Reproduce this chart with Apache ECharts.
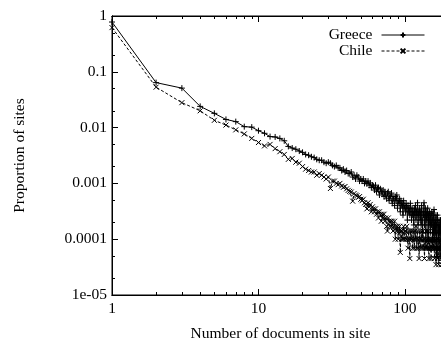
<!DOCTYPE html>
<html>
<head>
<meta charset="utf-8">
<script src="https://cdn.jsdelivr.net/npm/echarts@6/dist/echarts.min.js"></script>
<style>
  html, body { margin: 0; padding: 0; background: #fff; }
  #chart { width: 441px; height: 342px; }
</style>
</head>
<body>
<div id="chart"></div>
<script>
// proportion of sites with n documents, n = 1, 2, 3 ...
const greece = [
  0.78, 0.064, 0.051, 0.024, 0.018, 0.014, 0.0128, 0.0104, 0.0102, 0.0088,
  0.0079, 0.0069, 0.0068, 0.0064, 0.0058, 0.0046, 0.0043, 0.0041, 0.0038, 0.0036,
  0.0033, 0.0032, 0.0030, 0.0029, 0.0027, 0.0026, 0.0026, 0.0024, 0.0023, 0.0024,
  0.0023, 0.0021, 0.0020, 0.0021, 0.0019, 0.0019, 0.0017, 0.0018, 0.0016, 0.0017,
  0.0015, 0.0015, 0.0016, 0.0013, 0.0014, 0.0012, 0.0014, 0.0013, 0.0011, 0.0012,
  0.0011, 0.0012, 0.0010, 0.0011, 0.00098, 0.0011, 0.00093, 0.00102, 0.00084, 0.00093,
  0.00089, 0.00076, 0.00093, 0.00071, 0.00080, 0.00084, 0.00062, 0.00080, 0.00071, 0.00067,
  0.00076, 0.00058, 0.00071, 0.00062, 0.00053, 0.00067, 0.00071, 0.00049, 0.00062, 0.00058,
  0.00067, 0.00044, 0.00058, 0.00053, 0.00040, 0.00058, 0.00049, 0.00062, 0.00036, 0.00049,
  0.00044, 0.00053, 0.00031, 0.00049, 0.00040, 0.00044, 0.00027, 0.00049, 0.00036, 0.00040,
  0.00031, 0.00044, 0.00036, 0.00022, 0.00040, 0.00031, 0.00036, 0.00027, 0.00044, 0.00031,
  0.00022, 0.00036, 0.00027, 0.00031, 0.00018, 0.00036, 0.00027, 0.00040, 0.00022, 0.00031,
  0.00027, 0.00045, 0.00018, 0.00031, 0.00027, 0.00036, 0.00022, 0.00031, 0.00018, 0.00040,
  0.00022, 0.00013, 0.00031, 0.00027, 0.00045, 0.00018, 0.00027, 0.00036, 0.00013, 0.00031,
  0.00022, 0.00027, 0.00036, 0.00009, 0.00027, 0.00018, 0.00031, 0.00022, 0.00013, 0.00027,
  0.00029, 0.00018, 0.00031, 0.00009, 0.00022, 0.00027, 0.00013, 0.00034, 0.00018, 0.00009,
  0.00022, 0.00013, 0.00027, 0.00018, 0.000049, 0.00022, 0.00027, 0.00013, 0.00018, 0.00009,
  0.00022, 0.00013, 0.00018, 0.000049, 0.00022, 0.00013, 0.00022, 0.00009, 0.00013, 0.00018
]
const chile = [
  0.62, 0.053, 0.028, 0.020, 0.0135, 0.0111, 0.0091, 0.0077, 0.0064, 0.0054,
  0.0047, 0.0050, 0.0042, 0.0037, 0.0033, 0.0027, 0.0028, 0.0024, 0.0023, 0.0020,
  0.0018, 0.0017, 0.0016, 0.0016, 0.0014, 0.0015, 0.0014, 0.0013, 0.0012, 0.0013,
  0.00081, 0.0011, 0.0011, 0.0010, 0.00095, 0.0010, 0.00090, 0.00085, 0.00088, 0.00080,
  0.00075, 0.00072, 0.00070, 0.00048, 0.00066, 0.00062, 0.00060, 0.00056, 0.00058, 0.00052,
  0.00049, 0.00052, 0.00045, 0.00042, 0.00035, 0.00045, 0.00038, 0.00042, 0.00031, 0.00038,
  0.00035, 0.00031, 0.00035, 0.00028, 0.00031, 0.00024, 0.00031, 0.00028, 0.00021, 0.00028,
  0.00024, 0.00028, 0.00021, 0.00024, 0.00017, 0.00014, 0.00024, 0.00021, 0.00017, 0.00021,
  0.00017, 0.00021, 0.00014, 0.00017, 0.00021, 0.00010, 0.00017, 0.00014, 0.00017, 0.00010,
  0.00014, 0.00017, 0.000058, 0.00014, 0.00010, 0.00014, 0.00010, 0.00017, 0.00010, 0.00014,
  0.00014, 0.00010, 0.00017, 0.00010, 0.000069, 0.00014, 0.00010, 0.000045, 0.00014, 0.00010,
  0.00014, 0.00010, 0.000069, 0.00014, 0.00010, 0.000069, 0.00014, 0.00010, 0.00017, 0.000069,
  0.00010, 0.00014, 0.000069, 0.00010, 0.000045, 0.00014, 0.00010, 0.000069, 0.00010, 0.00014,
  0.000069, 0.00010, 0.00014, 0.000069, 0.00010, 0.000045, 0.00010, 0.000069, 0.00014, 0.000069,
  0.00010, 0.000069, 0.00010, 0.00014, 0.000069, 0.000045, 0.00010, 0.000069, 0.00010, 0.000069,
  0.000045, 0.00010, 0.000069, 0.00010, 0.000069, 0.00014, 0.000069, 0.00010, 0.000045, 0.000069,
  0.00010, 0.000069, 0.000035, 0.000069, 0.00010, 0.000069, 0.000045, 0.00010, 0.000069, 0.000035,
  0.000069, 0.00010, 0.000069, 0.000045, 0.000069, 0.00010, 0.000069, 0.000035, 0.000069, 0.000045
]
const xTicks = [1, 10, 100]
const xMinorTicks = [2, 3, 4, 5, 6, 7, 8, 9, 20, 30, 40, 50, 60, 70, 80, 90, 200]
const yTicks = [1e-5, 1e-4, 1e-3, 1e-2, 1e-1, 1]
const yTickLabels = ['1e-05', '0.0001', '0.001', '0.01', '0.1', '1']
const yMinorTicks = [2e-5, 5e-5, 2e-4, 5e-4, 2e-3, 5e-3, 2e-2, 5e-2, 0.2, 0.5]

const FONT = 'Liberation Serif'
const FONT_SIZE = 15.5
const plusPath = 'path://M0,5L10,5M5,0L5,10'
const crossPath = 'path://M0,0L10,10M0,10L10,0'

function toPoints (arr) {
  return arr.map((v, i) => [i + 1, v])
}

// x axis builder: major with labels, or minor ticks only
function xAxisOf (pos, major) {
  return {
    type: 'log',
    position: pos,
    min: 1,
    max: 200,
    logBase: 10,
    axisLine: { show: true, onZero: false, lineStyle: { color: '#000', width: 1 } },
    axisTick: {
      show: true,
      inside: true,
      length: major ? 6 : 3,
      customValues: major ? xTicks : xMinorTicks,
      lineStyle: { color: '#000', width: 1 }
    },
    axisLabel: {
      show: major && pos === 'bottom',
      customValues: xTicks,
      margin: 6,
      fontFamily: FONT,
      fontSize: FONT_SIZE,
      color: '#000'
    },
    splitLine: { show: false },
    name: major && pos === 'bottom' ? 'Number of documents in site' : '',
    nameLocation: 'middle',
    nameGap: 31,
    nameTextStyle: { fontFamily: FONT, fontSize: FONT_SIZE, color: '#000' }
  }
}

function yAxisOf (major) {
  return {
    type: 'log',
    position: 'left',
    min: 1e-5,
    max: 1,
    logBase: 10,
    axisLine: { show: true, onZero: false, lineStyle: { color: '#000', width: 1 } },
    axisTick: {
      show: true,
      inside: true,
      length: major ? 6 : 3,
      customValues: major ? yTicks : yMinorTicks,
      lineStyle: { color: '#000', width: 1 }
    },
    axisLabel: {
      show: major,
      customValues: yTicks,
      margin: 5,
      fontFamily: FONT,
      fontSize: FONT_SIZE,
      color: '#000',
      formatter: (val) => {
        let idx = yTicks.findIndex(t => Math.abs(Math.log10(t) - Math.log10(val)) < 1e-6)
        return idx >= 0 ? yTickLabels[idx] : ''
      }
    },
    splitLine: { show: false },
    name: major ? 'Proportion of sites' : '',
    nameLocation: 'middle',
    nameGap: 84,
    nameTextStyle: { fontFamily: FONT, fontSize: FONT_SIZE, color: '#000' }
  }
}

let chart = echarts.init(document.getElementById('chart'))
chart.setOption({
  animation: false,
  backgroundColor: '#fff',
  grid: {
    show: true,
    borderColor: '#000',
    borderWidth: 1,
    backgroundColor: 'transparent',
    left: 112,
    top: 16,
    right: -8,
    bottom: 47,
    containLabel: false,
    outerBoundsMode: 'none'
  },
  legend: {
    orient: 'vertical',
    right: 11,
    top: 22,
    align: 'right',
    itemWidth: 43,
    itemHeight: 6,
    itemGap: 0,
    lineStyle: { width: 1 },
    textStyle: { fontFamily: FONT, fontSize: FONT_SIZE, lineHeight: 15, color: '#000', padding: [0, 4, 0, 0] },
    data: ['Greece', 'Chile']
  },
  xAxis: [
    xAxisOf('bottom', true),
    xAxisOf('bottom', false),
    xAxisOf('top', true),
    xAxisOf('top', false)
  ],
  yAxis: [
    yAxisOf(true),
    yAxisOf(false)
  ],
  series: [
    {
      name: 'Greece',
      type: 'line',
      xAxisIndex: 0,
      yAxisIndex: 0,
      data: toPoints(greece),
      symbol: plusPath,
      symbolSize: 6,
      showAllSymbol: true,
      lineStyle: { color: '#000', width: 1, type: 'solid' },
      itemStyle: { color: '#000', borderColor: '#000', borderWidth: 1 }
    },
    {
      name: 'Chile',
      type: 'line',
      xAxisIndex: 0,
      yAxisIndex: 0,
      data: toPoints(chile),
      symbol: crossPath,
      symbolSize: 5,
      showAllSymbol: true,
      lineStyle: { color: '#000', width: 1, type: [3, 2] },
      itemStyle: { color: '#000', borderColor: '#000', borderWidth: 1 }
    }
  ]
})
</script>
</body>
</html>
